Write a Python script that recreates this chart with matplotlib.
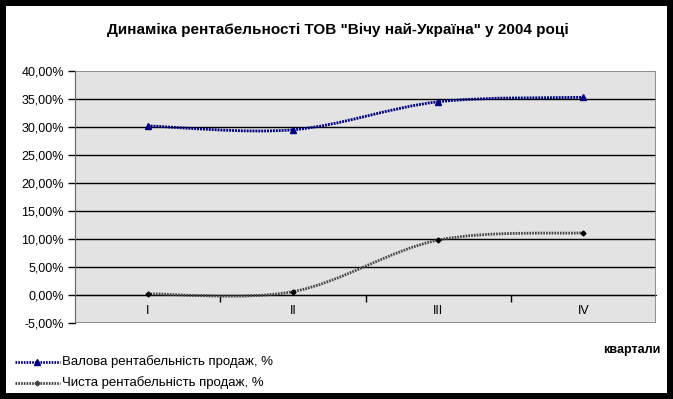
import matplotlib
matplotlib.use("Agg")
import matplotlib.pyplot as plt
from matplotlib.path import Path
from matplotlib.patches import PathPatch, Rectangle
from matplotlib.lines import Line2D
from matplotlib.ticker import FuncFormatter, FixedLocator

plt.rcParams['font.family'] = ['Liberation Sans', 'DejaVu Sans']

# data
quarters = ['I', 'II', 'III', 'IV']
gross = [30.2, 29.5, 34.5, 35.3]   # Валова рентабельність продаж, %
net = [0.2, 0.6, 9.8, 11.1]        # Чиста рентабельність продаж, %
yticks = [-5, 0, 5, 10, 15, 20, 25, 30, 35, 40]

W, H = 673, 399


def smooth_path(xs, ys):
    # Excel-like smoothed line: cubic bezier segments through the points
    pts = list(zip(xs, ys))
    verts = [pts[0]]
    codes = [Path.MOVETO]
    n = len(pts)
    for i in range(n - 1):
        p0 = pts[max(i - 1, 0)]
        p1 = pts[i]
        p2 = pts[i + 1]
        p3 = pts[min(i + 2, n - 1)]
        c1 = (p1[0] + (p2[0] - p0[0]) / 6, p1[1] + (p2[1] - p0[1]) / 6)
        c2 = (p2[0] - (p3[0] - p1[0]) / 6, p2[1] - (p3[1] - p1[1]) / 6)
        verts += [c1, c2, p2]
        codes += [Path.CURVE4] * 3
    return Path(verts, codes)


fig = plt.figure(figsize=(W / 100, H / 100), dpi=100, facecolor='black')
fig.patches.append(Rectangle((6 / W, 6 / H), 661 / W, 387 / H, transform=fig.transFigure,
                             facecolor='white', edgecolor='none', zorder=-10))

ax = fig.add_axes([75 / W, 76 / H, 581 / W, 252 / H])
ax.set_facecolor('#e3e3e3')
ax.set_xlim(-0.5, 3.5)
ax.set_ylim(-5, 40)

# horizontal gridlines
for v in yticks[1:-1]:
    ax.axhline(v, color='black', lw=1, zorder=1)

x = list(range(len(quarters)))
ax.add_patch(PathPatch(smooth_path(x, gross), fill=False, edgecolor='#000080',
                       lw=2, linestyle=(0, (0.7, 0.35)), zorder=3))
ax.add_patch(PathPatch(smooth_path(x, net), fill=False, edgecolor='#444444',
                       lw=2, linestyle=(0, (0.6, 0.4)), zorder=3))
ax.plot(x, gross, linestyle='none', marker='^', ms=4, color='#000080', zorder=4)
ax.plot(x, net, linestyle='none', marker='D', ms=2.5, color='black', zorder=4)

# axes styling
for s in ['top', 'right']:
    ax.spines[s].set_visible(False)
ax.spines['left'].set_color('black')
ax.spines['bottom'].set_position(('data', 0))
ax.spines['bottom'].set_color('black')
ax.add_patch(Rectangle((0, 0), 1, 1, transform=ax.transAxes, fill=False,
                       edgecolor='#808080', lw=1.2, zorder=5))

ax.yaxis.set_major_locator(FixedLocator(yticks))
ax.yaxis.set_major_formatter(FuncFormatter(lambda v, p: f'{v:.2f}%'.replace('.', ',')))
ax.tick_params(axis='y', length=5, width=1, labelsize=9, pad=3, color='black')

ax.xaxis.set_major_locator(FixedLocator([0.5, 1.5, 2.5]))
ax.xaxis.set_major_formatter(FuncFormatter(lambda v, p: ''))
ax.xaxis.set_minor_locator(FixedLocator(x))
ax.set_xticks(x, quarters, minor=True)
ax.tick_params(axis='x', which='major', length=5, width=1, direction='out')
ax.tick_params(axis='x', which='minor', length=0, labelsize=9, pad=7)

fig.text(338 / W, 1 - 30 / H, 'Динаміка рентабельності ТОВ "Вічу най-Україна" у 2004 році',
         ha='center', va='center', fontsize=11, fontweight='bold')
fig.text(660 / W, 1 - 350 / H, 'квартали', ha='right', va='center',
         fontsize=9, fontweight='bold')

# legend drawn at the bottom left
legend_items = [('Валова рентабельність продаж, %', '#000080', '^', 4, 362),
                ('Чиста рентабельність продаж, %', '#444444', 'D', 2.5, 383)]
for label, col, mk, ms, ypx in legend_items:
    yy = 1 - ypx / H
    fig.add_artist(Line2D([15 / W, 60 / W], [yy, yy], transform=fig.transFigure,
                          color=col, lw=2, linestyle=(0, (0.6, 0.4))))
    fig.add_artist(Line2D([37 / W], [yy], transform=fig.transFigure, color=col,
                          marker=mk, ms=ms, linestyle='none'))
    fig.text(62 / W, yy, label, ha='left', va='center', fontsize=9.5)

fig.savefig('out.png', dpi=100, facecolor=fig.get_facecolor())
